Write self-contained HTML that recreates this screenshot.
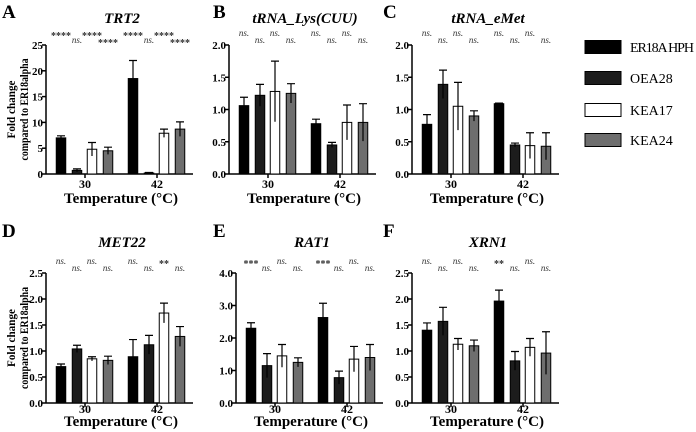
<!DOCTYPE html>
<html><head><meta charset="utf-8"><style>
body{margin:0;background:#fff;}
svg{display:block;font-family:"Liberation Serif","Times New Roman",serif;}
</style></head><body>
<svg id="c" width="696" height="432" viewBox="0 0 696 432" xmlns="http://www.w3.org/2000/svg"></svg>
<script>
const panelLetters = ["A","B","C","D","E","F"];
const panelTitles = ["TRT2","tRNA_Lys(CUU)","tRNA_eMet","MET22","RAT1","XRN1"];
const groups = ["30","42"];
const strains = ["ER18A HPH","OEA28","KEA17","KEA24"];
const yMaxes = [25,2,2,2.5,4,2.5];
const yTickSets = [[0,5,10,15,20,25],[0,0.5,1,1.5,2],[0,0.5,1,1.5,2],[0,0.5,1,1.5,2,2.5],[0,1,2,3,4],[0,0.5,1,1.5,2,2.5]];
const yTickLabels = [["0","5","10","15","20","25"],["0.0","0.5","1.0","1.5","2.0"],["0.0","0.5","1.0","1.5","2.0"],["0.0","0.5","1.0","1.5","2.0","2.5"],["0.0","1.0","2.0","3.0","4.0"],["0.0","0.5","1.0","1.5","2.0","2.5"]];
const meansA = [7.0,0.7,4.8,4.5, 18.5,0.2,7.9,8.7];
const errsA  = [0.4,0.3,1.3,0.7, 3.5,0.1,0.8,1.4];
const meansB = [1.06,1.22,1.28,1.25, 0.78,0.45,0.80,0.80];
const errsB  = [0.13,0.17,0.47,0.15, 0.07,0.04,0.27,0.29];
const meansC = [0.77,1.39,1.05,0.90, 1.09,0.45,0.44,0.43];
const errsC  = [0.15,0.22,0.37,0.08, 0.01,0.03,0.20,0.21];
const meansD = [0.70,1.04,0.85,0.82, 0.89,1.12,1.73,1.28];
const errsD  = [0.05,0.07,0.04,0.08, 0.33,0.18,0.19,0.19];
const meansE = [2.30,1.15,1.45,1.25, 2.63,0.78,1.35,1.40];
const errsE  = [0.17,0.37,0.35,0.14, 0.44,0.20,0.39,0.40];
const meansF = [1.40,1.57,1.13,1.10, 1.96,0.81,1.07,0.96];
const errsF  = [0.14,0.27,0.11,0.11, 0.21,0.18,0.17,0.41];
const sigA = ["****","ns.","****","****","****","ns.","****","****"];
const sigB = ["ns.","ns.","ns.","ns.","ns.","ns.","ns.","ns."];
const sigC = ["ns.","ns.","ns.","ns.","ns.","ns.","ns.","ns."];
const sigD = ["ns.","ns.","ns.","ns.","ns.","ns.","**","ns."];
const sigE = ["***","ns.","ns.","ns.","***","ns.","ns.","ns."];
const sigF = ["ns.","ns.","ns.","ns.","**","ns.","ns.","ns."];
const allMeans=[meansA,meansB,meansC,meansD,meansE,meansF];
const allErrs=[errsA,errsB,errsC,errsD,errsE,errsF];
const allSig=[sigA,sigB,sigC,sigD,sigE,sigF];

const svg=document.getElementById('c');
const NS="http://www.w3.org/2000/svg";
function mk(tag,attrs,parent,text){const e=document.createElementNS(NS,tag);for(const k in attrs)e.setAttribute(k,attrs[k]);if(text!==undefined)e.textContent=text;(parent||svg).appendChild(e);return e;}
const fills=["#000","#1c1c1c","#fff","#6e6e6e"];
const axisXs=[46,229,412,46,236,412];
const letterXs=[2,213,383,2,213,383];
const barOffsets=[15,31,46,62,87,103,118,134];
for(let p=0;p<6;p++){
  const row=p<3?0:1;
  const yTop=row?273:45, yBot=row?403:174;
  const tickOff=row?10:14, titleOff=row?23:29;
  const ax=axisXs[p];
  const ymax=yMaxes[p];
  const Y=v=>yBot-(v/ymax)*(yBot-yTop);
  const g=mk('g',{});  
  const lt=mk('text',{x:letterXs[p],y:row?237:18,'font-size':19,'font-weight':'bold'},g,panelLetters[p]);
   
  const tt=mk('text',{x:ax+76,y:row?247:23,'font-size':15,'font-weight':'bold','font-style':'italic','text-anchor':'middle'},g,panelTitles[p]);
   
  const ya=mk('line',{x1:ax,y1:yTop,x2:ax,y2:yBot+0.5,stroke:'#000','stroke-width':1.5},g);
   
  const xa=mk('line',{x1:ax,y1:yBot,x2:ax+147,y2:yBot,stroke:'#000','stroke-width':1.5},g);
   
  yTickSets[p].forEach((t,i)=>{
    mk('line',{x1:ax-4,y1:Y(t),x2:ax,y2:Y(t),stroke:'#000','stroke-width':1.5},g);
    const tl=mk('text',{x:ax-3,y:Y(t)+4,'font-size':11,'font-weight':'bold','text-anchor':'end'},g,yTickLabels[p][i]);
     
  });
  groups.forEach((gname,gi)=>{
    const cx=ax+(gi?111:39);
    mk('line',{x1:cx,y1:yBot,x2:cx,y2:yBot+4,stroke:'#000','stroke-width':1.5},g);
    const xl=mk('text',{x:cx,y:yBot+tickOff,'font-size':12,'font-weight':'bold','text-anchor':'middle'},g,gname);
     
  });
  const xt=mk('text',{x:ax+75,y:yBot+titleOff,'font-size':15,'font-weight':'bold','text-anchor':'middle'},g,'Temperature (°C)');
   
  if(p===0||p===3){
    const cy=(yTop+yBot)/2;
    const yt=mk('text',{x:0,y:0,'font-size':12,'font-weight':'bold','text-anchor':'middle',textLength:58,lengthAdjust:'spacingAndGlyphs',transform:`translate(15,${cy}) rotate(-90)`},g,'Fold change');
     
    const yt2=mk('text',{x:0,y:0,'font-size':12,'font-weight':'bold','text-anchor':'middle',textLength:102,lengthAdjust:'spacingAndGlyphs',transform:`translate(28,${cy}) rotate(-90)`},g,'compared to ER18alpha');
     
  }
  const m=allMeans[p], e=allErrs[p], s=allSig[p];
  for(let i=0;i<8;i++){
    const cx=ax+barOffsets[i], si=i%4, w=9.5;
    const r=mk('rect',{x:cx-w/2,y:Y(m[i]),width:w,height:yBot-Y(m[i]),fill:fills[si],stroke:'#000','stroke-width':1},g);
    
    
    const eb=mk('path',{d:`M${cx},${Y(Math.max(0,m[i]-e[i]))}V${Y(m[i]+e[i])}M${cx-4},${Y(m[i]+e[i])}H${cx+4}`,stroke:'#000','stroke-width':1.2,fill:'none'},g);
     
    const isNs=s[i]==='ns.';
    const sy=(i%2===0)?yTop-9:yTop-2;
    const st=mk('text',{x:cx,y:sy+(isNs?0:3),'font-size':isNs?9:10,'font-style':isNs?'italic':'normal','font-weight':isNs?'normal':'bold','text-anchor':'middle',fill:'#333'},g,s[i]);
     
  }
}
const lg=mk('g',{});  
const legYs=[47,78,110,140];
strains.forEach((s,i)=>{
  const b=mk('rect',{x:585,y:legYs[i]-6.5,width:36,height:13,fill:fills[i],stroke:'#000','stroke-width':1},lg);
   
  const t=mk('text',{x:630,y:legYs[i]+5,'font-size':14},lg,s);
  if(s.length>6){t.setAttribute('textLength','64');}
   
});
</script>
</body></html>
